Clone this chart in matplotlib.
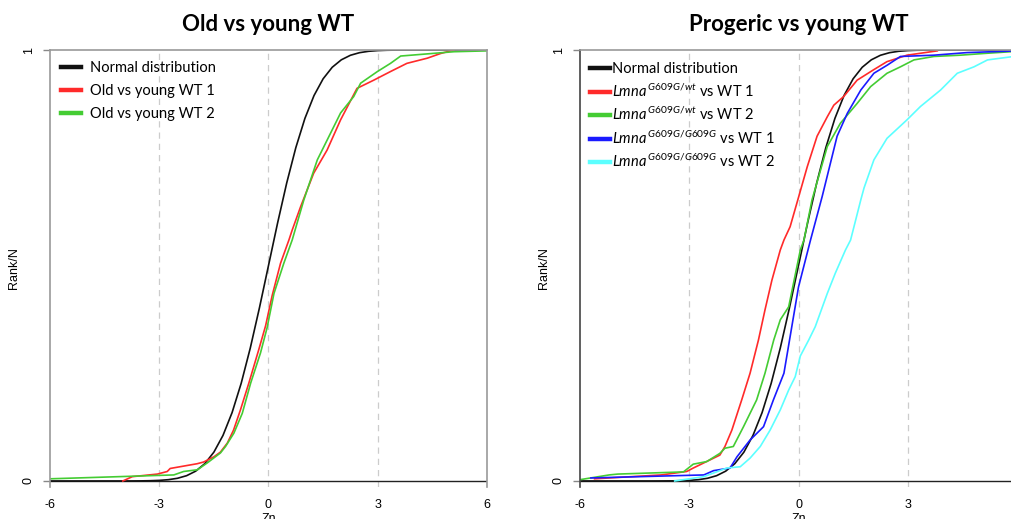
import numpy as np
import matplotlib
matplotlib.use("Agg")
import matplotlib.pyplot as plt

plt.rcParams["font.family"] = ["Liberation Sans", "DejaVu Sans"]
plt.rcParams["mathtext.fontset"] = "custom"
plt.rcParams["mathtext.rm"] = "Lato"
plt.rcParams["mathtext.it"] = "Lato:italic"

# Normal distribution reference curve
norm_z = [-6, -4, -3.75, -3.5, -3.25, -3, -2.75, -2.5, -2.25, -2, -1.75, -1.5, -1.25, -1, -0.75,
          -0.5, -0.25, 0, 0.25, 0.5, 0.75, 1, 1.25, 1.5, 1.75, 2, 2.25, 2.5, 2.75, 3,
          3.25, 3.5, 3.75, 4, 6]
norm_r = [0, 0.00003, 0.00009, 0.00023, 0.00058, 0.00135, 0.00298, 0.00621, 0.01222, 0.02275,
          0.04006, 0.06681, 0.10565, 0.15866, 0.22663, 0.30854, 0.40129, 0.5, 0.59871, 0.69146,
          0.77337, 0.84134, 0.89435, 0.93319, 0.95994, 0.97725, 0.98778, 0.99379, 0.99702,
          0.99865, 0.99942, 0.99977, 0.99991, 0.99997, 1.0]

# Old vs young WT
old1_z = [-4.0, -3.74, -3.05, -2.78, -2.7, -1.96, -1.78, -1.5, -1.32, -1.13, -0.96, -0.77, -0.54,
          -0.27, -0.08, 0.10, 0.33, 0.56, 0.65, 0.88, 1.24, 1.61, 1.98, 2.43, 2.89, 3.35, 3.8,
          4.36, 4.73, 5.09]
old1_r = [0.0, 0.010, 0.016, 0.022, 0.029, 0.040, 0.044, 0.056, 0.067, 0.088, 0.118, 0.165, 0.227,
          0.304, 0.36, 0.43, 0.505, 0.559, 0.582, 0.636, 0.714, 0.768, 0.838, 0.911, 0.930, 0.95,
          0.969, 0.981, 0.992, 1.0]
old2_z = [-6.0, -2.6, -2.33, -1.95, -1.68, -1.32, -1.18, -0.95, -0.72, -0.49, -0.22, -0.04, 0.15,
          0.42, 0.65, 0.97, 1.34, 1.61, 1.98, 2.34, 2.53, 2.99, 3.35, 3.63, 4.36, 5.09, 6.0]
old2_r = [0.005, 0.014, 0.022, 0.026, 0.042, 0.065, 0.08, 0.111, 0.157, 0.227, 0.297, 0.355, 0.435,
          0.505, 0.559, 0.652, 0.745, 0.791, 0.854, 0.892, 0.923, 0.95, 0.969, 0.986, 0.991, 0.996,
          0.998]

# Progeric vs young WT
het1_z = [-5.6, -3.77, -3.07, -2.89, -2.16, -2.02, -1.83, -1.56, -1.33, -1.1, -0.92, -0.73, -0.5,
          -0.4, -0.23, -0.02, 0.24, 0.51, 0.79, 0.97, 1.24, 1.61, 2.06, 2.43, 2.98, 3.81]
het1_r = [0.005, 0.014, 0.022, 0.03, 0.06, 0.08, 0.118, 0.188, 0.25, 0.327, 0.397, 0.466, 0.536,
          0.559, 0.59, 0.652, 0.729, 0.80, 0.845, 0.872, 0.892, 0.93, 0.954, 0.973, 0.988, 0.998]
het2_z = [-6.0, -5.2, -4.96, -3.16, -2.89, -2.52, -2.16, -2.02, -1.79, -1.51, -1.15, -0.92, -0.68,
          -0.5, -0.27, 0.05, 0.15, 0.37, 0.79, 1.15, 1.61, 1.98, 2.43, 2.8, 3.17, 3.72, 4.45, 5.1, 6.0]
het2_r = [0.003, 0.014, 0.016, 0.021, 0.039, 0.045, 0.064, 0.076, 0.08, 0.126, 0.188, 0.25, 0.327,
          0.374, 0.404, 0.536, 0.559, 0.652, 0.776, 0.83, 0.876, 0.915, 0.946, 0.961, 0.977, 0.985,
          0.988, 0.992, 0.997]
hom1_z = [-5.7, -2.6, -2.33, -1.88, -1.69, -1.33, -0.96, -0.69, -0.4, -0.23, 0.0, 0.33, 0.65,
          1.06, 1.34, 1.71, 2.07, 2.44, 2.8, 3.72, 4.63, 6.0]
hom1_r = [0.007, 0.014, 0.024, 0.03, 0.056, 0.095, 0.126, 0.188, 0.25, 0.335, 0.45, 0.559, 0.66,
          0.80, 0.853, 0.907, 0.946, 0.965, 0.985, 0.988, 0.994, 0.998]
hom2_z = [-3.4, -2.6, -1.97, -1.6, -1.33, -1.05, -0.78, -0.5, -0.27, -0.09, 0.05, 0.28, 0.46, 0.79,
          1.01, 1.29, 1.43, 1.71, 1.8, 2.07, 2.43, 2.98, 3.35, 3.9, 4.36, 4.82, 5.19, 6.0]
hom2_r = [0.0, 0.01, 0.03, 0.033, 0.053, 0.08, 0.118, 0.165, 0.211, 0.242, 0.29, 0.327, 0.358,
          0.435, 0.482, 0.536, 0.559, 0.652, 0.68, 0.745, 0.795, 0.838, 0.869, 0.907, 0.946,
          0.961, 0.977, 0.986]

RED = "#ff2a2a"
GREEN = "#44cc33"
BLUE = "#1a1aff"
CYAN = "#5cffff"
BLACK = "#111111"

fig = plt.figure(figsize=(10.12, 5.19), dpi=100)
ax1 = fig.add_axes([50 / 1012, 1 - 487 / 519, 437 / 1012, 437 / 519])
ax2 = fig.add_axes([580 / 1012, 1 - 487 / 519, 437 / 1012, 437 / 519])


def style_axis(ax, title, left_col, xticks):
    ax.set_xlim(-6, 6)
    ax.set_ylim(-0.014, 1)
    for x in [-3, 0, 3]:
        ax.axvline(x, color="#cccccc", lw=0.9, ls=(0, (5, 4)), zorder=0)
    ax.axhline(0, color="#222222", lw=1.0, zorder=1)
    for s in ["left", "right", "top"]:
        ax.spines[s].set_color("#999999")
        ax.spines[s].set_linewidth(1.2)
    ax.spines["left"].set_color(left_col)
    ax.spines["bottom"].set_visible(False)
    ax.set_xticks(xticks)
    ax.set_xticklabels([str(t) for t in xticks])
    ax.tick_params(axis="x", length=0, pad=9, labelsize=9)
    ax.set_yticks([0, 1])
    ax.set_yticklabels(["0", "1"], rotation=90, va="center")
    ax.tick_params(axis="y", length=5, width=1.0, color="#888888", pad=6, labelsize=9)
    ax.set_xlabel("Zn", fontsize=9, labelpad=1)
    ax.set_ylabel("Rank/N", fontsize=9, labelpad=2)
    ax.set_title(title, fontsize=16, fontweight="bold", family="Lato", pad=14)


style_axis(ax1, "Old vs young WT", "#999999", [-6, -3, 0, 3, 6])
ax1.plot(norm_z, norm_r, color=BLACK, lw=1.2, label="Normal distribution")
ax1.plot(old1_z, old1_r, color=RED, lw=1.2, label="Old vs young WT 1")
ax1.plot(old2_z, old2_r, color=GREEN, lw=1.2, label="Old vs young WT 2")
leg1 = ax1.legend(loc="upper left", bbox_to_anchor=(0.0, 1.0), frameon=False,
                  prop={"family": "Lato", "size": 10.5}, handlelength=1.35, handletextpad=0.65,
                  labelspacing=0.62, borderaxespad=0.35)
for h in leg1.legend_handles:
    h.set_linewidth(3.2)

# the right panel runs past the figure edge, so its "6" label is not shown
style_axis(ax2, "Progeric vs young WT", "#444444", [-6, -3, 0, 3])
ax2.plot(norm_z, norm_r, color=BLACK, lw=1.2, label="Normal distribution")
ax2.plot(het1_z, het1_r, color=RED, lw=1.2,
         label=r"$\it{Lmna}^{\,\it{G609G/wt}}$ vs WT 1")
ax2.plot(het2_z, het2_r, color=GREEN, lw=1.2,
         label=r"$\it{Lmna}^{\,\it{G609G/wt}}$ vs WT 2")
ax2.plot(hom1_z, hom1_r, color=BLUE, lw=1.2,
         label=r"$\it{Lmna}^{\,\it{G609G/G609G}}$ vs WT 1")
ax2.plot(hom2_z, hom2_r, color=CYAN, lw=1.2,
         label=r"$\it{Lmna}^{\,\it{G609G/G609G}}$ vs WT 2")
leg2 = ax2.legend(loc="upper left", bbox_to_anchor=(0.0, 0.995), frameon=False,
                  prop={"family": "Lato", "size": 10.5}, handlelength=1.35, handletextpad=0.15,
                  labelspacing=0.42, borderaxespad=0.3)
for h in leg2.legend_handles:
    h.set_linewidth(3.2)

fig.savefig("out.png", dpi=100)
